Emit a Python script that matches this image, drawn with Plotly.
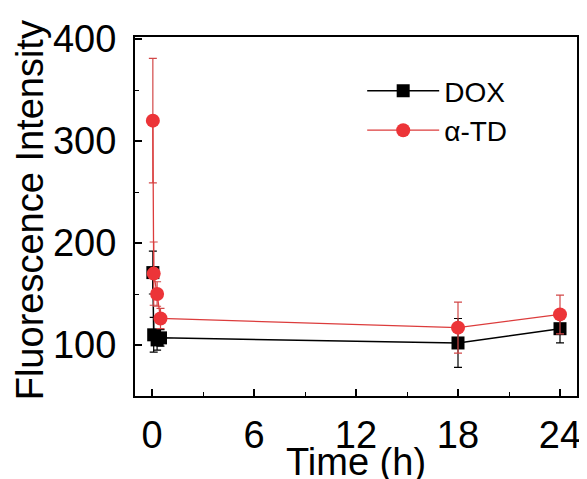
import plotly.graph_objects as go

time_h = [0.05, 0.1, 0.3, 0.5, 18, 24]
dox = [171, 110, 105, 107, 102, 116]
dox_err = [21, 17, 10, 8, 24, 14]
atd = [320, 170, 150, 126, 117, 130]
atd_err = [61, 31, 12, 10, 25, 19]

x_ticks = [0, 6, 12, 18, 24]
y_ticks = [100, 200, 300, 400]

FONT = "Liberation Sans, Arial, sans-serif"

fig = go.Figure()
fig.add_trace(go.Scatter(
    x=time_h, y=dox, name="DOX", mode="lines+markers",
    line=dict(color="#000000", width=1.5),
    marker=dict(symbol="square", size=13, color="#000000"),
    error_y=dict(type="data", array=dox_err, color="#000000", thickness=1.2, width=4),
))
fig.add_trace(go.Scatter(
    x=time_h, y=atd, name="α-TD", mode="lines+markers",
    line=dict(color="#dc3c3c", width=1.3),
    marker=dict(symbol="circle", size=14, color="#ec3438"),
    error_y=dict(type="data", array=atd_err, color="#d24848", thickness=1.2, width=4),
))

fig.update_layout(
    width=579, height=471,
    margin=dict(l=127, r=10, t=29, b=83),
    paper_bgcolor="white", plot_bgcolor="white",
    font=dict(family=FONT, color="#000000"),
    showlegend=True,
    legend=dict(x=0.514, y=0.919, xanchor="left", yanchor="top",
                font=dict(size=28, family=FONT), bgcolor="rgba(0,0,0,0)",
                itemwidth=72, tracegroupgap=0),
    xaxis=dict(
        range=[-1, 25], tickvals=x_ticks, ticktext=[str(v) for v in x_ticks],
        ticks="inside", ticklen=7, tickwidth=1.5, tickcolor="#000",
        minor=dict(tickvals=[3, 9, 15, 21], ticks="inside", ticklen=4, tickwidth=1, tickcolor="#000"),
        showline=True, linewidth=2, linecolor="#000", mirror=True,
        showgrid=False, zeroline=False, automargin=False, ticklabelstandoff=4,
        tickfont=dict(size=38),
    ),
    yaxis=dict(
        range=[50, 402], tickvals=y_ticks, ticktext=[str(v) for v in y_ticks],
        ticks="inside", ticklen=7, tickwidth=1.5, tickcolor="#000",
        minor=dict(tickvals=[150, 250, 350], ticks="inside", ticklen=4, tickwidth=1, tickcolor="#000"),
        showline=True, linewidth=2, linecolor="#000", mirror=True,
        showgrid=False, zeroline=False, automargin=False, ticklabelstandoff=9,
        tickfont=dict(size=38),
    ),
    xaxis2=dict(
        overlaying="x", side="top", matches="x", range=[-1, 25],
        tickvals=[3, 9, 15, 21], ticks="inside", ticklen=4, tickwidth=1, tickcolor="#000",
        showticklabels=False, showgrid=False, zeroline=False, showline=False, automargin=False,
    ),
    annotations=[
        dict(text="Time (h)", xref="paper", yref="paper", x=0.5, y=-0.183,
             xanchor="center", yanchor="middle", showarrow=False, font=dict(size=38)),
        dict(text="Fluorescence Intensity", xref="paper", yref="paper", x=-0.237, y=0.518,
             xanchor="center", yanchor="middle", textangle=-90, showarrow=False, font=dict(size=38)),
    ],
)

fig.write_html("out.html")
